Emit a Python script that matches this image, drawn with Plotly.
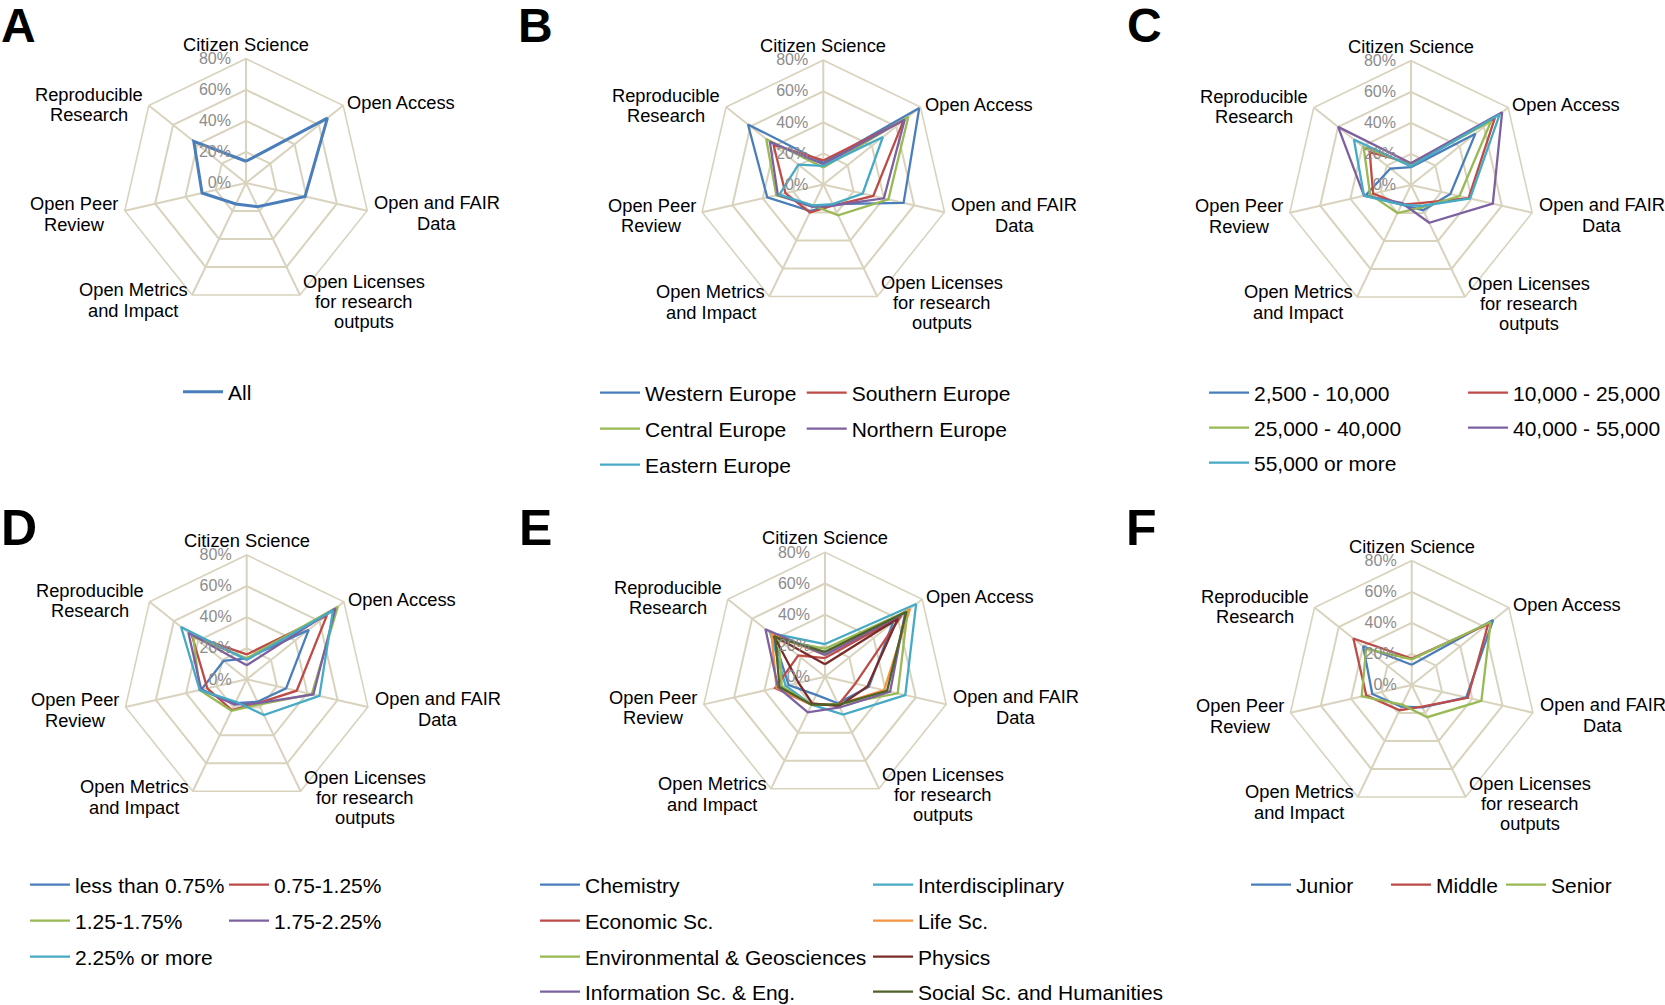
import math
import plotly.graph_objects as go

W, H = 1665, 1005

# ---------------- data ----------------
categories = ["Citizen Science", "Open Access", "Open and FAIR Data",
              "Open Licenses for research outputs", "Open Metrics and Impact",
              "Open Peer Review", "Reproducible Research"]
category_lines = [["Citizen Science"], ["Open Access"], ["Open and FAIR", "Data"],
                  ["Open Licenses", "for research", "outputs"], ["Open Metrics", "and Impact"],
                  ["Open Peer", "Review"], ["Reproducible", "Research"]]
radial_tickvals = [0, 0.2, 0.4, 0.6, 0.8]
radial_ticktext = ["0%", "20%", "40%", "60%", "80%"]

# values in percent, same order as categories
a_series = ["All"]
a_all = [14, 67, 39, 17, 15, 29, 43]

b_series = ["Western Europe", "Southern Europe", "Central Europe", "Northern Europe", "Eastern Europe"]
b_western = [14, 79, 53, 14, 19, 37, 62]
b_southern = [15.5, 66, 33, 15, 20, 25, 41]
b_central = [11, 70, 43, 22, 15, 31, 47]
b_northern = [13, 67, 40, 15, 16, 30, 44]
b_eastern = [12, 49, 26, 14, 15, 29, 20.5]

c_series = ["2,500 - 10,000", "10,000 - 25,000", "25,000 - 40,000", "40,000 - 55,000", "55,000 or more"]
c_2500 = [11.5, 53, 26, 18, 14, 30, 17]
c_10000 = [14, 69, 38, 13, 14, 25, 34]
c_25000 = [13, 66, 32, 16, 20, 27, 39]
c_40000 = [14, 75, 54, 27, 13, 31, 60]
c_55000 = [12, 73, 39, 15, 14, 31, 47]

d_series = ["less than 0.75%", "0.75-1.25%", "1.25-1.75%", "1.75-2.25%", "2.25% or more"]
d_lt075 = [13.5, 51, 26, 16, 17, 30, 19]
d_075 = [16, 66, 33, 17, 22, 26, 45]
d_125 = [13.5, 75, 43, 18, 22.5, 31, 44]
d_175 = [9, 73, 44, 17, 18, 30, 48]
d_225 = [12.5, 71, 48, 25.5, 16, 31, 54]

e_series = ["Chemistry", "Interdisciplinary", "Economic Sc.", "Life Sc.",
            "Environmental & Geosciences", "Physics", "Information Sc. & Eng.",
            "Social Sc. and Humanities"]
e_chemistry = [15, 56, 29, 19, 13, 24, 43]
e_interdisciplinary = [21, 75, 53, 27, 20, 26, 45]
e_economic = [12, 63, 20, 20, 20, 33, 22]
e_life = [14, 70, 39, 20, 20, 32, 44]
e_environmental = [18, 68, 48, 20, 20, 28.5, 38]
e_physics = [8, 60, 28, 21, 19, 17.5, 42]
e_information = [14, 66, 43, 22, 25.5, 31, 49]
e_social = [16, 67, 41, 20, 20, 30, 41]

f_series = ["Junior", "Middle", "Senior"]
f_junior = [13, 67, 36, 16, 15.5, 26, 40]
f_middle = [17, 63, 37, 15.5, 18, 30, 48]
f_senior = [16.5, 65, 46, 23, 14, 33, 37.5]

# ---------------- styles / layout ----------------
BLUE, RED, GREEN, PURPLE, AQUA = "#4A7EBB", "#BE4B48", "#98B954", "#7D60A0", "#46AAC5"
ORANGE, DARKRED, DARKGREEN = "#F69240", "#7B2C2A", "#4F6228"
GRID = "#D9D3BE"
FONT = "Liberation Sans, Arial, sans-serif"
R = 124.3

panels = [
    dict(letter="A", cx=246, cy=183, lw=3,
         series=list(zip(a_series, [a_all], [BLUE])),
         legpos=[(183, 392)], letterpos=(0, 25.5), lsize=48),
    dict(letter="B", cx=823.3, cy=184.5, lw=2.3,
         series=list(zip(b_series, [b_western, b_southern, b_central, b_northern, b_eastern],
                         [BLUE, RED, GREEN, PURPLE, AQUA])),
         legpos=[(600, 393), (806.7, 393), (600, 429), (806.7, 429), (600, 465)],
         letterpos=(517, 25.5), lsize=48),
    dict(letter="C", cx=1411, cy=185, lw=2.3,
         series=list(zip(c_series, [c_2500, c_10000, c_25000, c_40000, c_55000],
                         [BLUE, RED, GREEN, PURPLE, AQUA])),
         legpos=[(1209, 393), (1468, 393), (1209, 428), (1468, 428), (1209, 463)],
         letterpos=(1126, 25.5), lsize=48),
    dict(letter="D", cx=246.7, cy=679.3, lw=2.3,
         series=list(zip(d_series, [d_lt075, d_075, d_125, d_175, d_225],
                         [BLUE, RED, GREEN, PURPLE, AQUA])),
         legpos=[(30, 885), (229, 885), (30, 921), (229, 921), (30, 957)],
         letterpos=(0, 527.5), lsize=50),
    dict(letter="E", cx=825, cy=676.7, lw=2.3,
         series=list(zip(e_series, [e_chemistry, e_interdisciplinary, e_economic, e_life,
                                    e_environmental, e_physics, e_information, e_social],
                         [BLUE, AQUA, RED, ORANGE, GREEN, DARKRED, PURPLE, DARKGREEN])),
         legpos=[(540, 885), (873, 885), (540, 921), (873, 921),
                 (540, 957), (873, 957), (540, 992), (873, 992)],
         letterpos=(518, 527.5), lsize=50),
    dict(letter="F", cx=1411.7, cy=685, lw=2.3,
         series=list(zip(f_series, [f_junior, f_middle, f_senior], [BLUE, RED, GREEN])),
         legpos=[(1251, 885), (1391, 885), (1506, 885)],
         letterpos=(1125, 527.5), lsize=50),
]

# label placement relative to each polygon vertex (px): (dx, [dy of each line])
label_offsets = [
    (0, [-14.5]),
    (58.3, [-2.6]),
    (69.8, [-8.1, 12.9]),
    (64.3, [-13.8, 6.2, 26.2]),
    (-58.6, [-5, 16]),
    (-50.5, [-7.1, 13.5]),
    (-59.8, [-11.4, 8.6]),
]

fig = go.Figure()
layout_extra = {}
annotations = []
leg_n = 0
n_cat = len(categories)

for pi, p in enumerate(panels):
    sub = "polar" if pi == 0 else f"polar{pi + 1}"
    cx, cy = p["cx"], p["cy"]
    for (name, vals, color), (lx, ly) in zip(p["series"], p["legpos"]):
        leg_n += 1
        leg_id = "legend" if leg_n == 1 else f"legend{leg_n}"
        fig.add_trace(go.Scatterpolar(
            r=[v / 100 for v in vals] + [vals[0] / 100],
            theta=categories + [categories[0]],
            mode="lines", name=name, subplot=sub, legend=leg_id,
            line=dict(color=color, width=p["lw"]),
            hovertemplate="%{theta}: %{r:.0%}<extra>" + name + "</extra>",
        ))
        layout_extra[leg_id] = dict(
            x=(lx - 5) / W, y=1 - ly / H, xanchor="left", yanchor="middle",
            orientation="h", itemwidth=40, bgcolor="rgba(0,0,0,0)", borderwidth=0,
            font=dict(family=FONT, size=21, color="black"),
        )
    layout_extra[sub] = dict(
        domain=dict(x=[(cx - R) / W, (cx + R) / W], y=[1 - (cy + R) / H, 1 - (cy - R) / H]),
        gridshape="linear", bgcolor="white",
        angularaxis=dict(type="category", categoryarray=categories, direction="clockwise",
                         rotation=90, showticklabels=False, ticks="", showline=True,
                         linecolor=GRID, linewidth=1.6, gridcolor=GRID, gridwidth=1.6),
        radialaxis=dict(range=[0, 0.8], tickvals=radial_tickvals, ticktext=radial_ticktext,
                        angle=90, side="counterclockwise", tickangle=90, showline=False,
                        ticks="outside", ticklen=9, tickcolor="rgba(0,0,0,0)",
                        gridcolor=GRID, gridwidth=1.6,
                        tickfont=dict(family=FONT, size=16, color="#8C8C8C")),
    )
    # category labels around the polygon
    for i, lines in enumerate(category_lines):
        th = 2 * math.pi * i / n_cat
        vx = cx + R * math.sin(th)
        vy = cy - R * math.cos(th)
        dx, dys = label_offsets[i]
        for txt, dy in zip(lines, dys):
            annotations.append(dict(
                text=txt, x=(vx + dx) / W, y=1 - (vy + dy) / H, xref="paper", yref="paper",
                xanchor="center", yanchor="middle", showarrow=False,
                font=dict(family=FONT, size=18.3, color="black")))
    # panel letter
    lx, ly = p["letterpos"]
    annotations.append(dict(
        text="<b>" + p["letter"] + "</b>", x=lx / W, y=1 - ly / H, xref="paper", yref="paper",
        xanchor="left", yanchor="middle", showarrow=False, borderpad=0,
        font=dict(family=FONT, size=p["lsize"], color="black")))

fig.update_layout(
    width=W, height=H, paper_bgcolor="white", plot_bgcolor="white",
    margin=dict(l=0, r=0, t=0, b=0, autoexpand=False),
    showlegend=True, annotations=annotations, **layout_extra,
)

fig.write_html("out.html", config={"displayModeBar": False},
               post_script="document.body.style.margin='0px';")
